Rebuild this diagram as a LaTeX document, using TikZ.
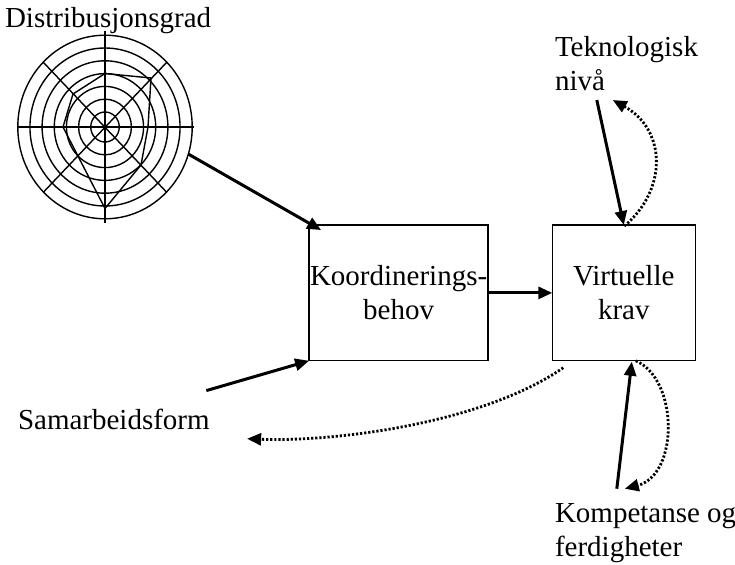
\documentclass[tikz,border=0pt]{standalone}
\usepackage{fontspec}
\setmainfont{Liberation Serif}
\usetikzlibrary{arrows.meta,calc,shapes.geometric}
\begin{document}
\begin{tikzpicture}[x=1bp,y=-1bp,
  txt/.style={font=\fontsize{29bp}{34bp}\selectfont, inner sep=0pt, outer sep=0pt},
  box/.style={draw, line width=1.4bp, inner sep=0pt, outer sep=0pt, align=center,
    minimum height=135.7bp, font=\fontsize{29bp}{34bp}\selectfont},
  link/.style={line width=3bp, -{Triangle[length=14bp,width=12bp]}},
  loose/.style={line width=2.8bp, dash pattern=on 2.2bp off 1.9bp,
    -{Triangle[length=14bp,width=12bp]}},
  ring/.style={line width=1.4bp},
]
\useasboundingbox (0,0) rectangle (735,565);

% radar chart
\begin{scope}[shift={(105,127)}]
  \foreach \k in {0,...,6} {
    \pgfmathsetmacro\ry{15+12.8*\k}
    \pgfmathsetmacro\rx{0.95*\ry}
    \draw[ring] (0,0) ellipse [x radius=\rx bp, y radius=\ry bp];
  }
  \draw[line width=2bp] (-88.3,0) -- (89,0);
  \draw[line width=2.8bp] (0,-96) -- (0,96);
  \draw[ring] (-61.7,-64.7) -- (61.7,65.3);
  \draw[ring] (-61.7,65.3) -- (61.7,-64.7);
  \draw[ring] (0,-53.5) -- (46,-49) -- (43,0) -- (36,38) -- (0,81.5)
    -- (-42,0) -- (-32,-33) -- cycle;
\end{scope}
\node[ellipse, minimum width=174.4bp, minimum height=183.6bp, inner sep=0pt,
  outer sep=0pt] (radar) at (105,127) {};

% labels (base anchor sits on the last line)
\node[txt, anchor=base west] (dist) at (5,28) {Distribusjonsgrad};
\node[txt, anchor=base west, align=left] (tek) at (555,90.7) {Teknologisk\\nivå};
\node[txt, anchor=base west] (sam) at (18,429) {Samarbeidsform};
\node[txt, anchor=base west, align=left] (komp) at (555,556.7) {Kompetanse og\\ferdigheter};

% boxes
\node[box, minimum width=179bp] (box1) at (398.6,292.9) {Koordinerings-\\behov};
\node[box, minimum width=143bp] (box2) at (623.8,292.9) {Virtuelle\\krav};

% free ends
\coordinate (samfoot) at ($(sam.north east)+(-3.3,-18)$);
\coordinate (radtip) at ($(box1.north west)+(12,5)$);
\coordinate (tekfoot) at ($(box2.north)+(-27,-125)$);
\coordinate (tekback) at ($(box2.north)+(-11,-125)$);
\coordinate (kompfoot) at ($(box2.south)+(-7,128)$);
\coordinate (kompback) at ($(box2.south)+(1,128)$);
\coordinate (samback) at ($(box1.south west)+(-62,78)$);

% connectors
\draw[link] (radar.-18) -- (radtip);
\draw[link] (samfoot) -- (box1.south west);
\draw[link] (box1.east) -- (box2.west);
\draw[link] (tekfoot) -- (box2.north);
\draw[loose] ($(box2.north)+(0.5,1)$) .. controls +(43,-36) and +(54,30) .. (tekback);
\draw[link] (kompfoot) -- ($(box2.south)+(8,1)$);
\draw[loose] ($(box2.south)+(12,0)$) .. controls +(43,19) and +(54,-14) .. (kompback);
\draw[loose] ($(box2.south west)+(11,7)$) .. controls (480,425) and (330,442) .. (samback);
\end{tikzpicture}
\end{document}
